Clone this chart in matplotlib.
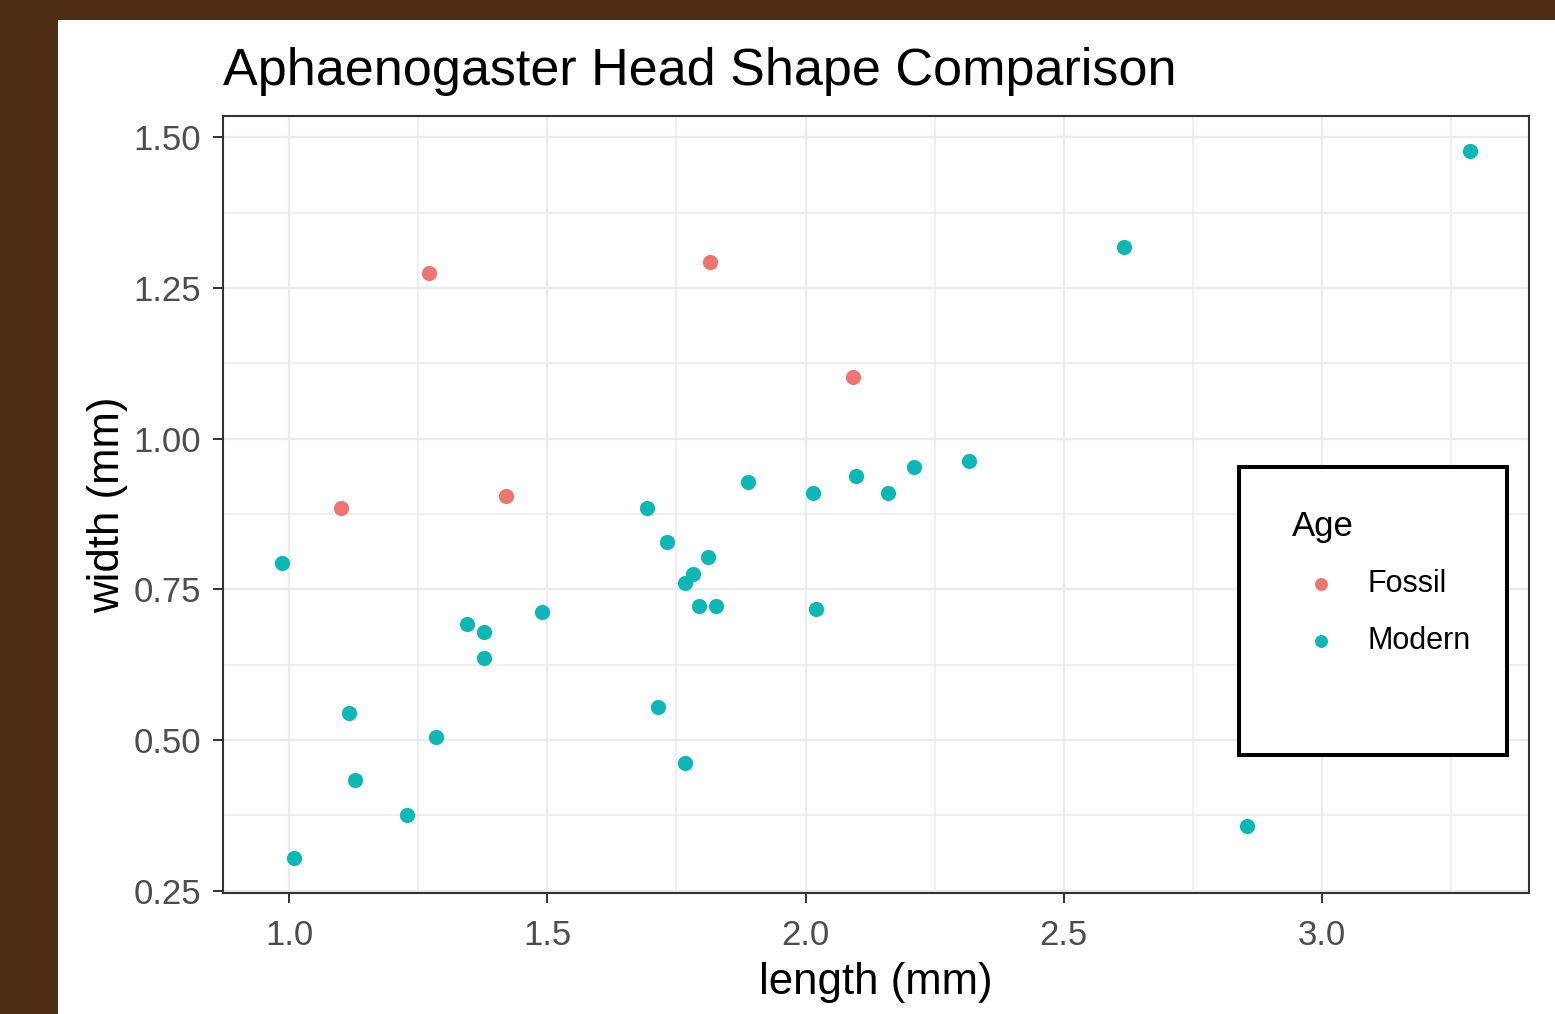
"""
Aphaenogaster head shape scatter, ggplot-style.
"""

import matplotlib.pyplot as plt
from matplotlib.patches import Rectangle

plt.rcParams['font.family'] = ['Liberation Sans', 'DejaVu Sans']

fossil_length = [1.10, 1.27, 1.42, 1.816, 2.092]
fossil_width = [0.885, 1.275, 0.905, 1.293, 1.102]

modern_length = [0.987, 1.01, 1.117, 1.128, 1.229, 1.285, 1.345, 1.377,
                 1.377, 1.489, 1.693, 1.714, 1.731, 1.766, 1.782, 1.793,
                 1.811, 1.826, 1.766, 1.888, 2.014, 2.020, 2.097, 2.159,
                 2.210, 2.316, 2.617, 2.854, 3.286]
modern_width = [0.794, 0.305, 0.545, 0.434, 0.376, 0.505, 0.693, 0.680,
                0.636, 0.713, 0.885, 0.555, 0.828, 0.761, 0.775, 0.723,
                0.804, 0.723, 0.462, 0.928, 0.910, 0.718, 0.938, 0.910,
                0.953, 0.963, 1.318, 0.358, 1.477]

x_ticks = [1.0, 1.5, 2.0, 2.5, 3.0]
y_ticks = [0.25, 0.50, 0.75, 1.00, 1.25, 1.50]

FOSSIL_COLOR = '#EE7570'
MODERN_COLOR = '#0EB7B3'
BROWN = '#4f2d15'


def main():
    fig = plt.figure(figsize=(15.55, 10.14), dpi=100)
    fig.patch.set_facecolor(BROWN)
    fig.patches.append(Rectangle((58 / 1555, 0), 1, 994 / 1014,
                                 transform=fig.transFigure,
                                 facecolor='white', edgecolor='none',
                                 zorder=-10))

    ax = fig.add_axes([0.1434, 0.1193, 0.8399, 0.7666])

    ax.scatter(fossil_length, fossil_width, s=120, color=FOSSIL_COLOR,
               linewidths=0, label='Fossil', zorder=3)
    ax.scatter(modern_length, modern_width, s=120, color=MODERN_COLOR,
               linewidths=0, label='Modern', zorder=3)

    # ggplot style 5% expansion
    all_x = fossil_length + modern_length
    all_y = fossil_width + modern_width
    dx = (max(all_x) - min(all_x)) * 0.05
    dy = (max(all_y) - min(all_y)) * 0.05
    ax.set_xlim(min(all_x) - dx, max(all_x) + dx)
    ax.set_ylim(min(all_y) - dy, max(all_y) + dy)

    ax.set_xticks(x_ticks)
    ax.set_xticklabels(['%.1f' % v for v in x_ticks])
    ax.set_yticks(y_ticks)
    ax.set_yticklabels(['%.2f' % v for v in y_ticks])
    ax.set_xticks([v + 0.25 for v in x_ticks], minor=True)
    ax.set_yticks([v + 0.125 for v in y_ticks[:-1]], minor=True)

    ax.grid(which='major', color='#EBEBEB', linewidth=1.6, zorder=0)
    ax.grid(which='minor', color='#EBEBEB', linewidth=1.1, zorder=0)
    ax.set_axisbelow(True)

    ax.tick_params(which='major', length=7, width=1.4, color='#333333',
                   labelsize=25, labelcolor='#4D4D4D')
    ax.tick_params(axis='x', which='major', pad=12)
    ax.tick_params(axis='y', which='major', pad=9)
    ax.tick_params(which='minor', length=0)
    for spine in ax.spines.values():
        spine.set_color('#333333')
        spine.set_linewidth(1.5)

    ax.set_title('Aphaenogaster Head Shape Comparison', loc='left',
                 fontsize=37.5, pad=22)
    ax.set_xlabel('length (mm)', fontsize=31.5, labelpad=7)
    ax.set_ylabel('width (mm)', fontsize=31.5, labelpad=4)

    # legend box like ggplot legend.background with black border
    ax.add_patch(Rectangle((0.7777, 0.1779), 0.2052, 0.3705,
                           transform=ax.transAxes, facecolor='white',
                           edgecolor='black', linewidth=2.9, zorder=5))
    leg = ax.legend(title='Age', loc='upper left',
                    bbox_to_anchor=(0.7990, 0.5249), borderaxespad=0,
                    borderpad=0.82, frameon=False, fontsize=22,
                    title_fontsize=25, alignment='left', scatterpoints=1,
                    markerscale=0.85, handlelength=1.9, handletextpad=0.59,
                    labelspacing=0.86)
    leg.set_zorder(6)

    fig.savefig('out.png', dpi=100, facecolor=fig.get_facecolor())


if __name__ == '__main__':
    main()
